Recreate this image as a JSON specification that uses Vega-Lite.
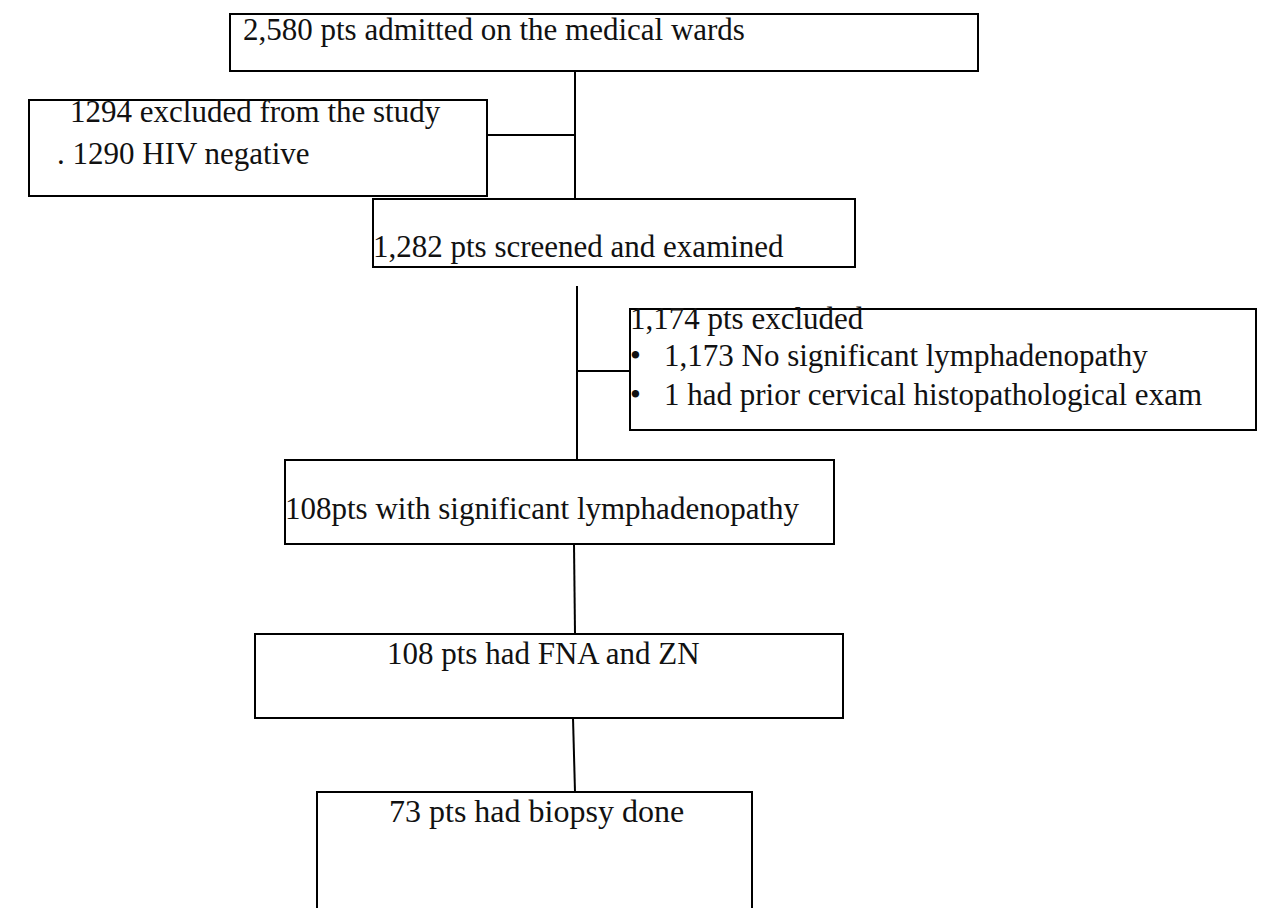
{
  "$schema": "https://vega.github.io/schema/vega-lite/v6.json",
  "width": 1268,
  "height": 908,
  "autosize": {"type": "fit", "contains": "padding"},
  "padding": 0,
  "background": "white",
  "config": {"view": {"stroke": null}},
  "datasets": {
    "boxes": [
      {"id": "b1", "x": 230, "x2": 978, "y": 14, "y2": 71},
      {"id": "b2", "x": 29, "x2": 487, "y": 100, "y2": 196},
      {"id": "b3", "x": 373, "x2": 855, "y": 199, "y2": 267},
      {"id": "b4", "x": 630, "x2": 1256, "y": 309, "y2": 430},
      {"id": "b5", "x": 285, "x2": 834, "y": 460, "y2": 544},
      {"id": "b6", "x": 255, "x2": 843, "y": 634, "y2": 718},
      {"id": "b7", "x": 317, "x2": 752, "y": 792, "y2": 930}
    ],
    "links": [
      {"x": 575, "x2": 575, "y": 71, "y2": 199},
      {"x": 487, "x2": 575, "y": 135, "y2": 135},
      {"x": 577, "x2": 577, "y": 286, "y2": 460},
      {"x": 577, "x2": 630, "y": 371, "y2": 371},
      {"x": 574, "x2": 575, "y": 544, "y2": 634},
      {"x": 573, "x2": 575, "y": 718, "y2": 792}
    ],
    "labels": [
      {"x": 243, "y": 31, "label": "2,580 pts admitted on the medical wards", "size": 31},
      {"x": 70, "y": 113, "label": "1294 excluded from the study", "size": 31},
      {"x": 57, "y": 155, "label": ". 1290 HIV negative", "size": 31},
      {"x": 373, "y": 248, "label": "1,282 pts screened and examined", "size": 31},
      {"x": 630, "y": 320, "label": "1,174 pts excluded", "size": 31},
      {"x": 630, "y": 357, "label": "•", "size": 31},
      {"x": 664, "y": 357, "label": "1,173 No significant lymphadenopathy", "size": 31},
      {"x": 630, "y": 396, "label": "•", "size": 31},
      {"x": 664, "y": 396, "label": "1 had prior cervical histopathological exam", "size": 31},
      {"x": 285, "y": 510, "label": "108pts with significant lymphadenopathy", "size": 31},
      {"x": 387, "y": 655, "label": "108 pts had FNA and ZN", "size": 31},
      {"x": 389, "y": 812, "label": "73 pts had biopsy done", "size": 32}
    ]
  },
  "layer": [
    {
      "data": {"name": "boxes"},
      "mark": {"type": "rect", "fill": "white", "stroke": "black", "strokeWidth": 2, "clip": true},
      "encoding": {
        "x": {"field": "x", "type": "quantitative", "scale": {"domain": [0, 1268], "nice": false, "zero": false}, "axis": null},
        "x2": {"field": "x2"},
        "y": {"field": "y", "type": "quantitative", "scale": {"domain": [0, 908], "reverse": true, "nice": false, "zero": false}, "axis": null},
        "y2": {"field": "y2"}
      }
    },
    {
      "data": {"name": "links"},
      "mark": {"type": "rule", "stroke": "black", "strokeWidth": 2},
      "encoding": {
        "x": {"field": "x", "type": "quantitative"},
        "x2": {"field": "x2"},
        "y": {"field": "y", "type": "quantitative"},
        "y2": {"field": "y2"}
      }
    },
    {
      "data": {"name": "labels"},
      "mark": {"type": "text", "align": "left", "baseline": "middle", "font": "Liberation Serif", "color": "#111"},
      "encoding": {
        "x": {"field": "x", "type": "quantitative"},
        "y": {"field": "y", "type": "quantitative"},
        "text": {"field": "label"},
        "size": {"field": "size", "type": "quantitative", "scale": null}
      }
    }
  ]
}
